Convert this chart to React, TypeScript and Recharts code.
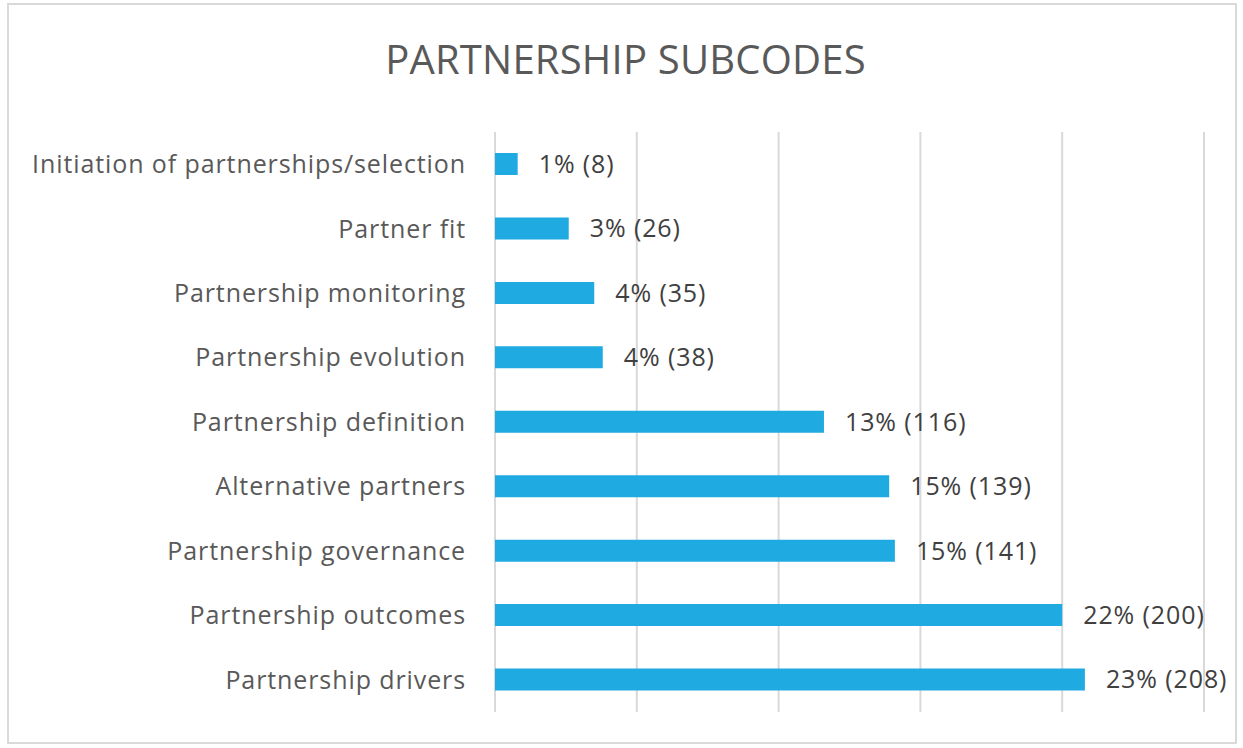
import { BarChart, Bar, XAxis, YAxis, CartesianGrid, LabelList } from 'recharts';

const subcodes = [
  'Initiation of partnerships/selection',
  'Partner fit',
  'Partnership monitoring',
  'Partnership evolution',
  'Partnership definition',
  'Alternative partners',
  'Partnership governance',
  'Partnership outcomes',
  'Partnership drivers',
];
const counts = [8, 26, 35, 38, 116, 139, 141, 200, 208];
const percents = [1, 3, 4, 4, 13, 15, 15, 22, 23];
const gridTicks = [0, 50, 100, 150, 200, 250];

const dados = subcodes.map((nome, i) => ({
  nome,
  total: counts[i],
  rotulo: `${percents[i]}% (${counts[i]})`,
}));

const FONT = '"Open Sans", sans-serif';

export default function App() {
  return (
    <div style={{ position: 'absolute', left: 0, top: 0, width: 1243, height: 748, background: '#fff', fontFamily: FONT }}>
      <div
        style={{
          position: 'absolute',
          left: 7,
          top: 3,
          width: 1230,
          height: 741,
          border: '2px solid #d9d9d9',
          boxSizing: 'border-box',
        }}
      />
      <div
        style={{
          position: 'absolute',
          left: 0,
          width: 1251,
          top: 34,
          textAlign: 'center',
          fontSize: 40,
          letterSpacing: 0.2,
          color: '#595959',
          lineHeight: '50px',
        }}
      >
        PARTNERSHIP SUBCODES
      </div>
      <div style={{ position: 'absolute', left: 0, top: 0 }}>
        <BarChart
          width={1243}
          height={748}
          data={dados}
          layout="vertical"
          margin={{ top: 132, right: 39, bottom: 36, left: 0 }}
          barCategoryGap={0}
        >
          <CartesianGrid horizontal={false} stroke="#d9d9d9" strokeWidth={2} />
          <XAxis type="number" domain={[0, 250]} ticks={gridTicks} hide />
          <YAxis
            type="category"
            dataKey="nome"
            width={495}
            axisLine={false}
            tickLine={false}
            tickMargin={23}
            tick={{ fill: '#595959', fontSize: 25, fontFamily: FONT, letterSpacing: 0.9 }}
          />
          <Bar dataKey="total" fill="#1FAAE1" barSize={22} isAnimationActive={false}>
            <LabelList
              dataKey="rotulo"
              position="right"
              offset={21}
              style={{ fill: '#404040', fontSize: 25, fontFamily: FONT, letterSpacing: 0.9 }}
            />
          </Bar>
        </BarChart>
      </div>
    </div>
  );
}
